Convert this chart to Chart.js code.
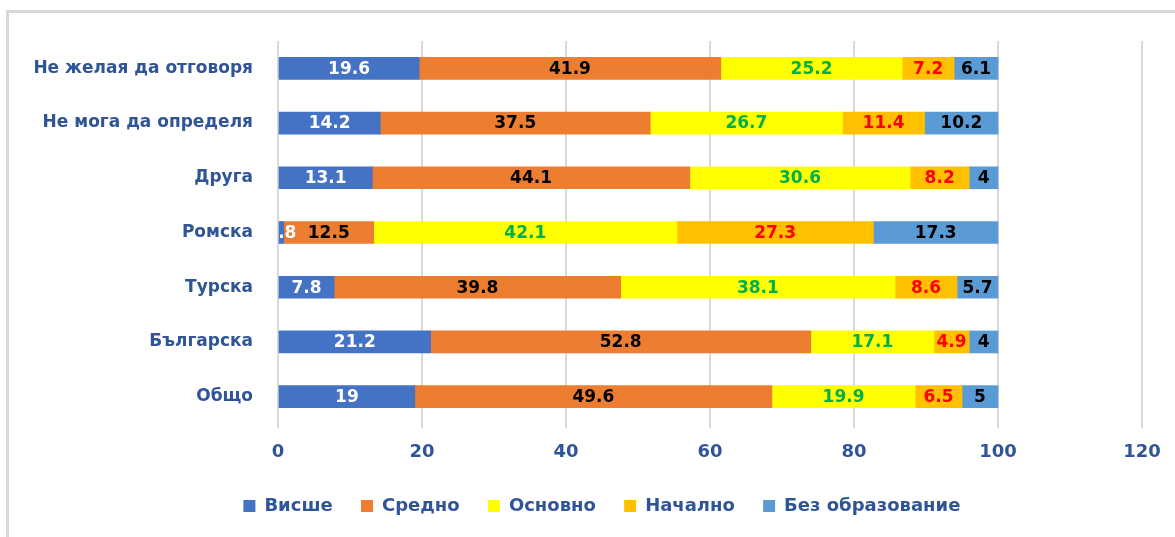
<!DOCTYPE html>
<html>
<head>
<meta charset="utf-8">
<script src="https://cdn.jsdelivr.net/npm/chart.js@4/dist/chart.umd.min.js"></script>
<style>
  html, body { margin: 0; padding: 0; background: #fff; }
  #wrap { position: relative; width: 1175px; height: 537px; }
  #frame { position: absolute; left: 6px; top: 10px; right: 0; bottom: 0;
           border-top: 3px solid #d9d9d9; border-left: 3px solid #d9d9d9; }
  canvas { position: absolute; left: 0; top: 0; }
</style>
</head>
<body>
<div id="wrap">
  <div id="frame"></div>
  <canvas id="chart" width="1175" height="537"></canvas>
</div>
<script>
(function () {
    'use strict';

    var categories = ['Не желая да отговоря', 'Не мога да определя', 'Друга', 'Ромска', 'Турска', 'Българска', 'Общо'];
    var vishe    = [19.6, 14.2, 13.1, 0.8, 7.8, 21.2, 19];
    var sredno   = [41.9, 37.5, 44.1, 12.5, 39.8, 52.8, 49.6];
    var osnovno  = [25.2, 26.7, 30.6, 42.1, 38.1, 17.1, 19.9];
    var nachalno = [7.2, 11.4, 8.2, 27.3, 8.6, 4.9, 6.5];
    var bez      = [6.1, 10.2, 4, 17.3, 5.7, 4, 5];
    var xTicks   = [0, 20, 40, 60, 80, 100, 120];

    var axisColor = '#2f5597';
    var fontFamily = '"DejaVu Sans", sans-serif';

    // Value labels drawn in the middle of each segment.
    var valueLabels = {
        id: 'valueLabels',
        afterDatasetsDraw: function (chart) {
            var ctx = chart.ctx;
            ctx.save();
            ctx.font = 'bold 17px ' + fontFamily;
            ctx.textAlign = 'center';
            ctx.textBaseline = 'middle';
            chart.data.datasets.forEach(function (ds, i) {
                var meta = chart.getDatasetMeta(i);
                ctx.fillStyle = ds.labelColor;
                meta.data.forEach(function (bar, j) {
                    var x = (bar.x + bar.base) / 2;
                    ctx.fillText(String(ds.data[j]), x, bar.y + 1);
                });
            });
            ctx.restore();
        }
    };

    // Legend sits a little right of centre in the original.
    var shiftLegend = {
        id: 'shiftLegend',
        afterLayout: function (chart) {
            if (chart.legend) {
                chart.legend.left += 34;
                chart.legend.right += 34;
            }
        }
    };

    new Chart(document.getElementById('chart'), {
        type: 'bar',
        data: {
            labels: categories,
            datasets: [
                { label: 'Висше', data: vishe, backgroundColor: '#4472c4', labelColor: '#ffffff' },
                { label: 'Средно', data: sredno, backgroundColor: '#ed7d31', labelColor: '#000000' },
                { label: 'Основно', data: osnovno, backgroundColor: '#ffff00', labelColor: '#00b050' },
                { label: 'Начално', data: nachalno, backgroundColor: '#ffc000', labelColor: '#ff0000' },
                { label: 'Без образование', data: bez, backgroundColor: '#5b9bd5', labelColor: '#000000' }
            ]
        },
        plugins: [valueLabels, shiftLegend],
        options: {
            indexAxis: 'y',
            responsive: false,
            animation: false,
            barThickness: 22,
            layout: { padding: { top: 41, right: 33, left: 0, bottom: 12 } },
            plugins: {
                tooltip: { enabled: false },
                legend: {
                    position: 'bottom',
                    labels: {
                        boxWidth: 12,
                        boxHeight: 12,
                        padding: 22,
                        color: axisColor,
                        font: { family: fontFamily, size: 18, weight: 'bold' },
                        generateLabels: function (chart) {
                            var items = Chart.defaults.plugins.legend.labels.generateLabels(chart);
                            items.forEach(function (it) { it.text = it.text + ' '; });
                            return items;
                        }
                    }
                }
            },
            scales: {
                x: {
                    stacked: true,
                    min: 0,
                    max: 120,
                    afterBuildTicks: function (scale) {
                        scale.ticks = xTicks.map(function (v) { return { value: v }; });
                    },
                    afterFit: function (scale) { scale.height = 51; },
                    grid: { color: '#d9d9d9', lineWidth: 2, drawTicks: true, tickLength: 4 },
                    border: { display: false },
                    ticks: {
                        color: axisColor,
                        padding: 14,
                        font: { family: fontFamily, size: 18, weight: 'bold' }
                    }
                },
                y: {
                    stacked: true,
                    afterFit: function (scale) { scale.width = 278; },
                    grid: { display: false },
                    border: { display: false },
                    ticks: {
                        color: axisColor,
                        padding: 17,
                        font: { family: fontFamily, size: 17, weight: 'bold' }
                    }
                }
            }
        }
    });
})();
</script>
</body>
</html>
